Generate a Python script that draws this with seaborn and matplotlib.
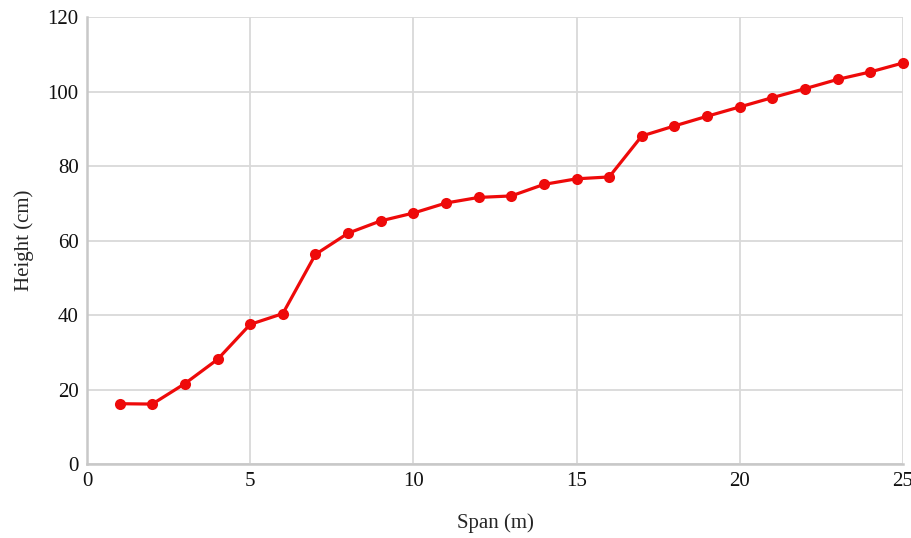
import pandas as pd
import seaborn as sns
import matplotlib.pyplot as plt

# values
span_m = [1, 2, 3, 4, 5, 6, 7, 8, 9, 10, 11, 12, 13, 14, 15, 16, 17, 18, 19, 20, 21, 22, 23, 24, 25]
height_cm = [16.2, 16.1, 21.6, 28.1, 37.5, 40.4, 56.3, 62.0, 65.3, 67.4, 70.1, 71.6, 72.0, 75.1, 76.6, 77.1,
             88.1, 90.8, 93.4, 95.9, 98.4, 100.8, 103.3, 105.3, 107.7]
x_ticks = [0, 5, 10, 15, 20, 25]
y_ticks = [0, 20, 40, 60, 80, 100, 120]

df = pd.DataFrame({'Span': span_m, 'Height': height_cm})

sns.set_style('whitegrid')
plt.rcParams['font.family'] = ['Liberation Serif', 'DejaVu Serif']

fig = plt.figure(figsize=(9.12, 5.38), dpi=100)
ax = fig.add_axes([0.0954, 0.1375, 0.8946, 0.8305])

sns.lineplot(data=df, x='Span', y='Height', ax=ax, color='#ee0a0a', linewidth=2.3,
             marker='o', markersize=8, markeredgewidth=0, clip_on=False)

ax.set_xlim(0, 25)
ax.set_ylim(0, 120)
ax.set_xticks(x_ticks)
ax.set_yticks(y_ticks)
ax.tick_params(axis='both', labelsize=15, colors='#111111', length=0, pad=6)
ax.set_xlabel('Span (m)', fontsize=15, labelpad=16)
ax.set_ylabel('Height (cm)', fontsize=15, labelpad=10)

ax.grid(True, color='#d9d9d9', linewidth=1.3)
for side in ['top', 'right']:
    ax.spines[side].set_visible(False)
for side in ['left', 'bottom']:
    ax.spines[side].set_color('#c8c8c8')
    ax.spines[side].set_linewidth(1.8)

plt.savefig('out.png', dpi=100)
